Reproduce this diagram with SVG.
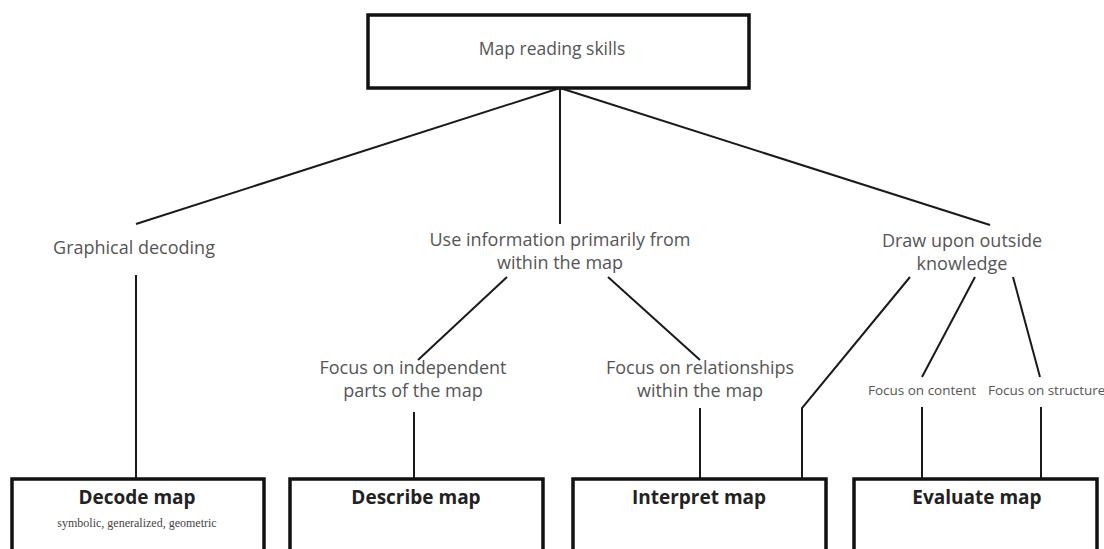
<svg xmlns="http://www.w3.org/2000/svg" width="1104" height="549" viewBox="0 0 1104 549">
<style>
.box{fill:#fff;stroke:#111;stroke-width:3.5}
.lbl{font-family:"Open Sans","Noto Sans",sans-serif;font-size:18px;fill:#555;text-anchor:middle}
.sm{font-family:"Open Sans","Noto Sans",sans-serif;font-size:13.5px;fill:#555}
.ttl{font-family:"Open Sans","Noto Sans",sans-serif;font-size:19px;font-weight:bold;fill:#222;text-anchor:middle}
.sub{font-family:"Liberation Serif",serif;font-size:12px;fill:#444;text-anchor:middle}
.con line,.con polyline{stroke:#1a1a1a;stroke-width:2;fill:none}
</style>
<rect width="1104" height="549" fill="#fff"/>
<g id="root">
<rect class="box" x="368" y="15" width="381" height="73"/>
<text class="lbl" x="552" y="55" style="font-size:17.5px">Map reading skills</text>
</g>
<g class="con" id="connectors">
<line x1="560" y1="88" x2="136" y2="224"/>
<line x1="560" y1="88" x2="560" y2="224"/>
<line x1="560" y1="88" x2="990" y2="225"/>
<line x1="136" y1="275" x2="136" y2="478"/>
<line x1="507" y1="277" x2="418" y2="360"/>
<line x1="608" y1="277" x2="700" y2="360"/>
<line x1="414" y1="412" x2="414" y2="478"/>
<line x1="700" y1="408" x2="700" y2="478"/>
<polyline points="910,277 802,408 802,478"/>
<line x1="975" y1="277" x2="922" y2="377"/>
<line x1="1013" y1="277" x2="1040" y2="377"/>
<line x1="922" y1="407" x2="922" y2="478"/>
<line x1="1041" y1="407" x2="1041" y2="478"/>
</g>
<g id="graphical">
<text class="lbl" x="134" y="254">Graphical decoding</text>
</g>
<g id="useinfo">
<text class="lbl" x="560" y="246">Use information primarily from</text>
<text class="lbl" x="560" y="269">within the map</text>
</g>
<g id="outside">
<text class="lbl" x="962" y="247">Draw upon outside</text>
<text class="lbl" x="962" y="270">knowledge</text>
</g>
<g id="independent">
<text class="lbl" x="413" y="374">Focus on independent</text>
<text class="lbl" x="413" y="397">parts of the map</text>
</g>
<g id="relationships">
<text class="lbl" x="700" y="374">Focus on relationships</text>
<text class="lbl" x="700" y="397">within the map</text>
</g>
<g id="content">
<text class="sm" x="922" y="395" text-anchor="middle">Focus on content</text>
</g>
<g id="structure">
<text class="sm" x="988" y="395">Focus on structure</text>
</g>
<g id="decode">
<rect class="box" x="12" y="479" width="252" height="90"/>
<text class="ttl" x="137" y="504">Decode map</text>
<text class="sub" x="137" y="527">symbolic, generalized, geometric</text>
</g>
<g id="describe">
<rect class="box" x="290" y="479" width="253" height="90"/>
<text class="ttl" x="416" y="504">Describe map</text>
</g>
<g id="interpret">
<rect class="box" x="573" y="479" width="253" height="90"/>
<text class="ttl" x="699" y="504">Interpret map</text>
</g>
<g id="evaluate">
<rect class="box" x="854" y="479" width="243" height="90"/>
<text class="ttl" x="977" y="504">Evaluate map</text>
</g>
</svg>
